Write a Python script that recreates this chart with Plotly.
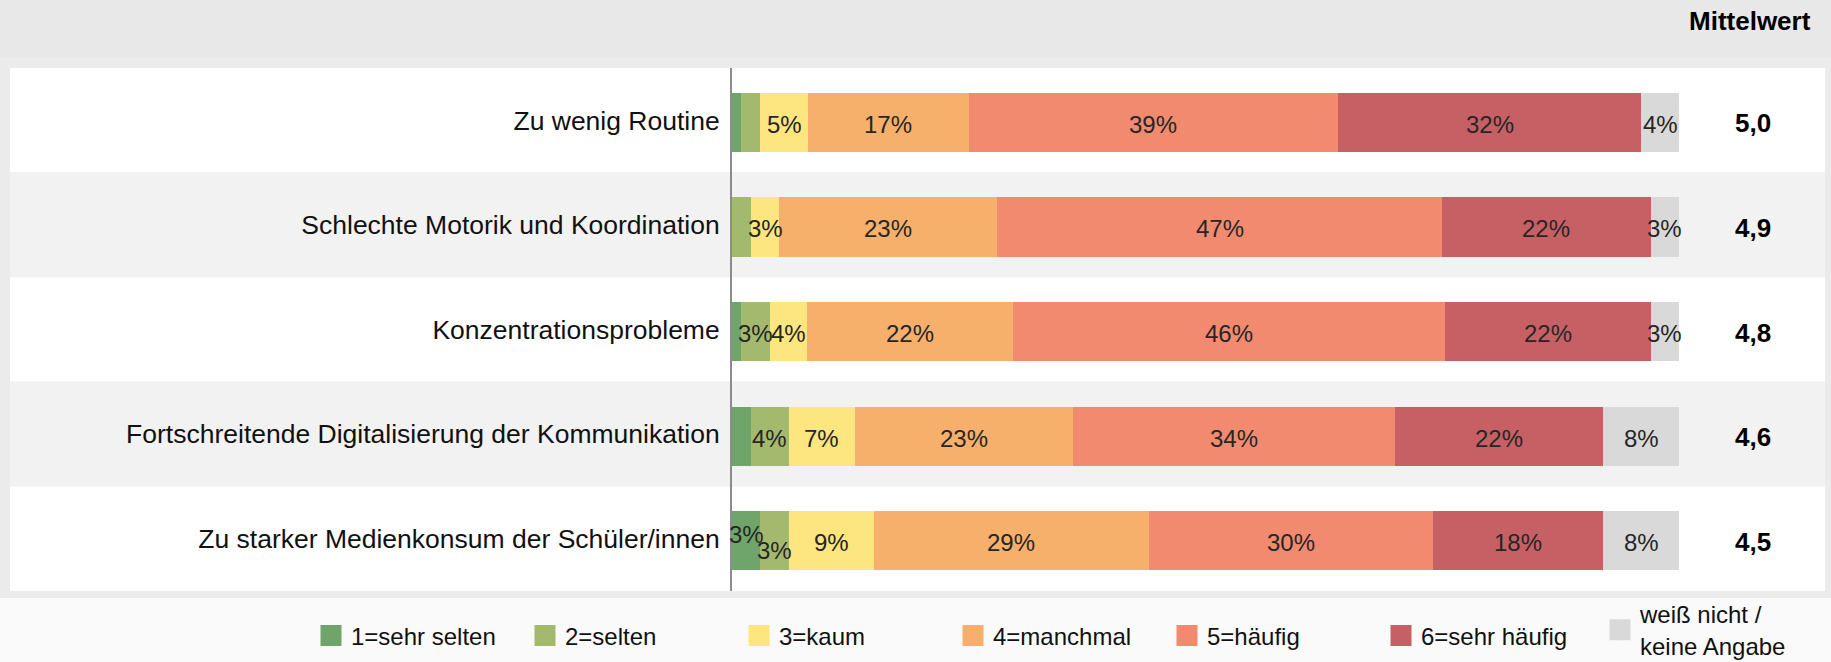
import plotly.graph_objects as go

W, H = 1831, 662

categories = [
    "Zu wenig Routine",
    "Schlechte Motorik und Koordination",
    "Konzentrationsprobleme",
    "Fortschreitende Digitalisierung der Kommunikation",
    "Zu starker Medienkonsum der Schüler/innen",
]
series_names = ["1=sehr selten", "2=selten", "3=kaum", "4=manchmal", "5=häufig",
                "6=sehr häufig", "weiß nicht /<br>keine Angabe"]
sehr_selten = [1, 0, 1, 2, 3]
selten = [2, 2, 3, 4, 3]
kaum = [5, 3, 4, 7, 9]
manchmal = [17, 23, 22, 23, 29]
haeufig = [39, 47, 46, 34, 30]
sehr_haeufig = [32, 22, 22, 22, 18]
weiss_nicht = [4, 3, 3, 8, 8]
mittelwert = [5.0, 4.9, 4.8, 4.6, 4.5]

series = [sehr_selten, selten, kaum, manchmal, haeufig, sehr_haeufig, weiss_nicht]
colors = ["#6FA46A", "#A3BA6E", "#FDE57F", "#F7B06B", "#F28A70", "#C66064", "#D9D9D9"]

FONT = "Liberation Sans, Arial, sans-serif"

def px(x):
    return x / W

def py(y):
    return 1 - y / H

row_sums = [sum(s[i] for s in series) for i in range(len(categories))]
norm = [[s[i] / row_sums[i] * 100 for i in range(len(categories))] for s in series]

BAR_W = 0.565
BAR_SHIFT = 0.02

fig = go.Figure()
for name, vals, col in zip(series_names, norm, colors):
    fig.add_trace(go.Bar(
        y=categories, x=vals, orientation="h", name=name,
        marker=dict(color=col, line=dict(width=0)),
        width=BAR_W, offset=-BAR_W / 2 + BAR_SHIFT, showlegend=False, hoverinfo="skip",
    ))
# legend entries
for k, (name, col) in enumerate(zip(series_names, colors)):
    fig.add_trace(go.Scatter(
        x=[None], y=[None], mode="markers", name=name,
        legend="legend2" if k == len(series_names) - 1 else "legend",
        marker=dict(symbol="square", size=16, color=col, line=dict(width=5, color=col)),
    ))

annotations = []
for i, cat in enumerate(categories):
    cum = 0
    for k, (raw, vals) in enumerate(zip(series, norm)):
        v = vals[i]
        if raw[i] >= 3:
            ys = -4
            if i == 4 and k == 0:
                ys = 4
            if i == 4 and k == 1:
                ys = -12
            annotations.append(dict(
                x=cum + v / 2, y=cat, xref="x", yref="y", text=f"{raw[i]}%",
                showarrow=False, yshift=ys, xanchor="center", yanchor="middle",
                font=dict(family=FONT, size=24, color="#262626"),
            ))
        cum += v
    annotations.append(dict(
        x=px(1753), y=cat, xref="paper", yref="y", xanchor="center", yanchor="middle",
        text=f"<b>{mittelwert[i]:.1f}</b>".replace(".", ","), showarrow=False, yshift=-3,
        font=dict(family=FONT, size=26, color="#000000"),
    ))
annotations.append(dict(
    x=px(1750), y=py(21), xref="paper", yref="paper", text="<b>Mittelwert</b>",
    xanchor="center", yanchor="middle",
    showarrow=False, font=dict(family=FONT, size=26, color="#000000"),
))

shapes = [
    dict(type="rect", xref="paper", yref="paper", x0=0, x1=1, y0=py(0), y1=py(57),
         fillcolor="#E8E8E8", line=dict(width=0), layer="below"),
    dict(type="rect", xref="paper", yref="paper", x0=0, x1=1, y0=py(57), y1=py(598),
         fillcolor="#EBEBEB", line=dict(width=0), layer="below"),
]
for i in range(len(categories)):
    shapes.append(dict(
        type="rect", xref="paper", yref="y", x0=px(10), x1=px(1825),
        y0=i - 0.5, y1=i + 0.5, fillcolor="#FFFFFF" if i % 2 == 0 else "#F2F2F2",
        line=dict(width=0), layer="below",
    ))

legend_font = dict(family=FONT, size=24, color="#111111")
fig.update_layout(
    width=W, height=H,
    margin=dict(l=0, r=0, t=0, b=0, autoexpand=False),
    barmode="stack",
    paper_bgcolor="#FAFAFA",
    plot_bgcolor="rgba(0,0,0,0)",
    font=dict(family=FONT, color="#111111"),
    xaxis=dict(domain=[px(732), px(1679)], range=[0, 100], visible=False, fixedrange=True,
               automargin=False),
    yaxis=dict(domain=[py(591), py(68)], range=[4.5, -0.5], type="category",
               categoryorder="array", categoryarray=categories, automargin=False,
               showline=True, linecolor="#8C8C8C", linewidth=2, ticks="",
               showgrid=False, zeroline=False, ticklabelstandoff=5,
               tickfont=dict(family=FONT, size=26.5, color="#111111"), fixedrange=True),
    legend=dict(orientation="h", x=px(311), xanchor="left", y=py(636), yanchor="middle",
                entrywidth=169, entrywidthmode="pixels", traceorder="normal",
                font=legend_font, bgcolor="rgba(0,0,0,0)", valign="middle", itemwidth=30),
    legend2=dict(orientation="h", x=px(1600), xanchor="left", y=py(630), yanchor="middle",
                 font=legend_font, bgcolor="rgba(0,0,0,0)", valign="middle", itemwidth=30),
    shapes=shapes,
    annotations=annotations,
    showlegend=True,
)

fig.write_html(
    "out.html",
    config={"displayModeBar": False},
    post_script="document.body.style.margin='0';document.body.style.overflow='hidden';",
)
